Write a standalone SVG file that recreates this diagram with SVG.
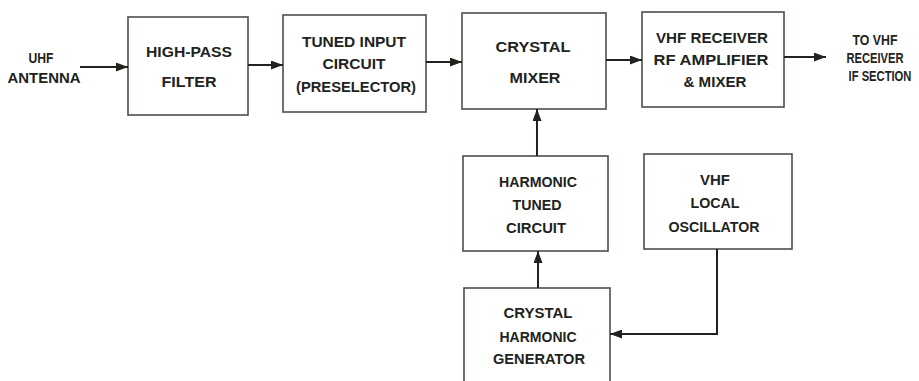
<svg xmlns="http://www.w3.org/2000/svg" width="919" height="381" viewBox="0 0 919 381">
<defs>
<marker id="ah" viewBox="0 0 12 9" refX="12" refY="4.5" markerWidth="12" markerHeight="9" markerUnits="userSpaceOnUse" orient="auto">
<path d="M0,0 L12,4.5 L0,9 Z" fill="#1e231e"/>
</marker>
<style>
.box{fill:#fff;stroke:#4a504a;stroke-width:1.6}
.t{font-family:"Liberation Sans",Arial,sans-serif;font-weight:bold;font-size:14px;fill:#1e231e;text-anchor:middle}
.c{fill:none;stroke:#1e231e;stroke-width:2}
</style>
</defs>
<rect width="919" height="381" fill="#fff"/>
<g id="input-label">
<text class="t" x="41" y="63" textLength="25" lengthAdjust="spacingAndGlyphs" fill="#1f3a22">UHF</text>
<text class="t" x="44" y="83" textLength="73" lengthAdjust="spacingAndGlyphs">ANTENNA</text>
</g>
<g id="high-pass-filter">
<rect class="box" x="128" y="17" width="120" height="98"/>
<text class="t" x="189" y="57" textLength="86" lengthAdjust="spacingAndGlyphs">HIGH-PASS</text>
<text class="t" x="189" y="87" textLength="55" lengthAdjust="spacingAndGlyphs">FILTER</text>
</g>
<g id="tuned-input">
<rect class="box" x="283" y="15" width="143" height="97"/>
<text class="t" x="354" y="47" textLength="104" lengthAdjust="spacingAndGlyphs">TUNED INPUT</text>
<text class="t" x="354" y="69" textLength="63" lengthAdjust="spacingAndGlyphs">CIRCUIT</text>
<text class="t" x="356" y="92" textLength="120" lengthAdjust="spacingAndGlyphs">(PRESELECTOR)</text>
</g>
<g id="crystal-mixer">
<rect class="box" x="462" y="13" width="144" height="96"/>
<text class="t" x="533" y="52" textLength="75" lengthAdjust="spacingAndGlyphs">CRYSTAL</text>
<text class="t" x="535" y="83" textLength="51" lengthAdjust="spacingAndGlyphs">MIXER</text>
</g>
<g id="vhf-receiver">
<rect class="box" x="642" y="12" width="142" height="95"/>
<text class="t" x="712" y="43" textLength="112" lengthAdjust="spacingAndGlyphs">VHF RECEIVER</text>
<text class="t" x="711" y="65" textLength="115" lengthAdjust="spacingAndGlyphs">RF AMPLIFIER</text>
<text class="t" x="715" y="87" textLength="63" lengthAdjust="spacingAndGlyphs">&amp; MIXER</text>
</g>
<g id="output-label">
<text class="t" x="875" y="45" textLength="45" lengthAdjust="spacingAndGlyphs">TO VHF</text>
<text class="t" x="875" y="63" textLength="57" lengthAdjust="spacingAndGlyphs">RECEIVER</text>
<text class="t" transform="translate(880,81) scale(0.8,1)">IF SECTION</text>
</g>
<g id="harmonic-tuned">
<rect class="box" x="463" y="156" width="145" height="95"/>
<text class="t" x="538" y="187" textLength="78" lengthAdjust="spacingAndGlyphs">HARMONIC</text>
<text class="t" x="537" y="210" textLength="49" lengthAdjust="spacingAndGlyphs">TUNED</text>
<text class="t" x="536" y="233" textLength="60" lengthAdjust="spacingAndGlyphs">CIRCUIT</text>
</g>
<g id="vhf-lo">
<rect class="box" x="644" y="154" width="148" height="95"/>
<text class="t" x="715" y="185" textLength="30" lengthAdjust="spacingAndGlyphs">VHF</text>
<text class="t" x="715" y="208" textLength="49" lengthAdjust="spacingAndGlyphs">LOCAL</text>
<text class="t" x="714" y="232" textLength="91" lengthAdjust="spacingAndGlyphs">OSCILLATOR</text>
</g>
<g id="harmonic-generator">
<rect class="box" x="464" y="288" width="146" height="100"/>
<text class="t" x="538" y="318" textLength="69" lengthAdjust="spacingAndGlyphs">CRYSTAL</text>
<text class="t" x="538" y="342" textLength="77" lengthAdjust="spacingAndGlyphs">HARMONIC</text>
<text class="t" x="539" y="364" textLength="92" lengthAdjust="spacingAndGlyphs">GENERATOR</text>
</g>
<g id="connectors">
<line class="c" x1="80" y1="67" x2="128" y2="67" marker-end="url(#ah)"/>
<line class="c" x1="248" y1="65" x2="283" y2="65" marker-end="url(#ah)"/>
<line class="c" x1="426" y1="62" x2="462" y2="62" marker-end="url(#ah)"/>
<line class="c" x1="606" y1="60" x2="642" y2="60" marker-end="url(#ah)"/>
<line class="c" x1="784" y1="57" x2="826" y2="57" marker-end="url(#ah)"/>
<line class="c" x1="537" y1="156" x2="537" y2="109" marker-end="url(#ah)"/>
<line class="c" x1="538" y1="288" x2="538" y2="251" marker-end="url(#ah)"/>
<polyline class="c" points="717,249 717,334 610,334" marker-end="url(#ah)"/>
</g>
</svg>
